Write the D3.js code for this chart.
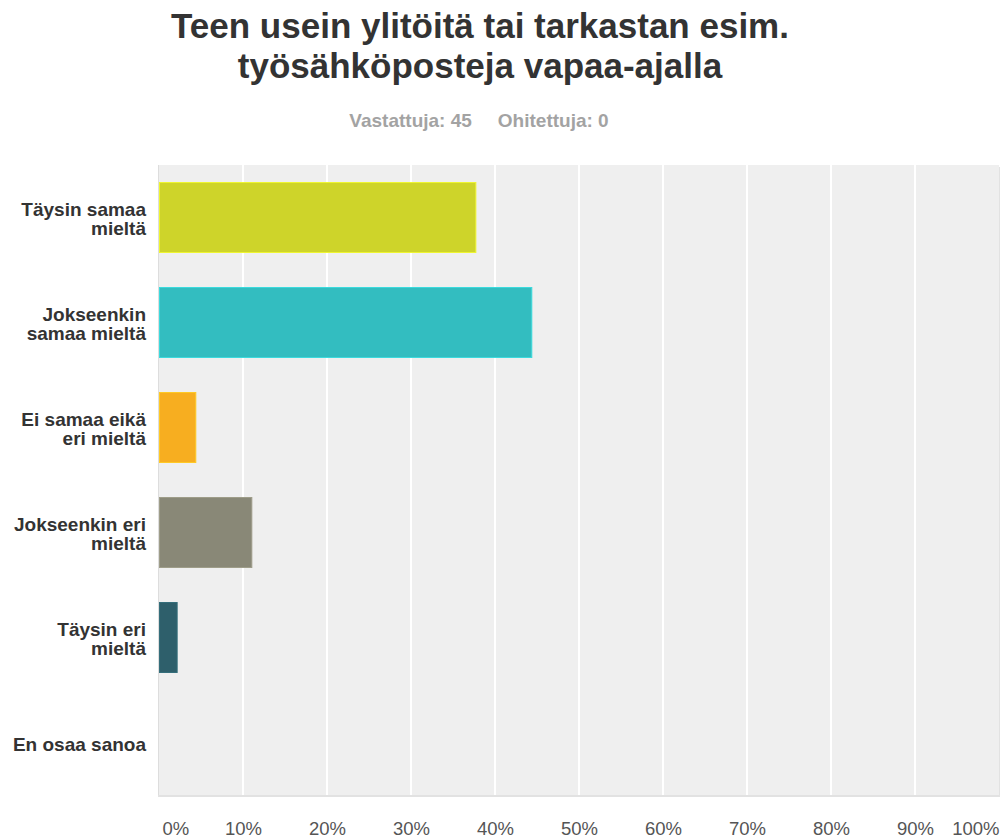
<!DOCTYPE html>
<html>
<head>
<meta charset="utf-8">
<script src="https://cdn.jsdelivr.net/npm/d3@7"></script>
<style>
  html, body { margin: 0; padding: 0; background: #fff; }
  svg { display: block; }
</style>
</head>
<body>
<svg id="chart" width="1002" height="838"></svg>
<script>
// Answer options, top to bottom
const categories = [
  ["Täysin samaa", "mieltä"],
  ["Jokseenkin", "samaa mieltä"],
  ["Ei samaa eikä", "eri mieltä"],
  ["Jokseenkin eri", "mieltä"],
  ["Täysin eri", "mieltä"],
  ["En osaa sanoa"]
];
// Share of respondents (%), 45 answers
const values = [37.78, 44.44, 4.44, 11.11, 2.22, 0];
const barColors = ["#ced42a", "#33bdc0", "#f7ae20", "#898877", "#2e5f6b", "#999999"];
const tickValues = [0, 10, 20, 30, 40, 50, 60, 70, 80, 90, 100];
const titleLines = ["Teen usein ylitöitä tai tarkastan esim.", "työsähköposteja vapaa-ajalla"];
const subtitle = ["Vastattuja: 45", "Ohitettuja: 0"];

const svg = d3.select("#chart");
const plot = { left: 159, right: 999, top: 165, bottom: 795 };
const font = "'Liberation Sans', Arial, sans-serif";

// Title
svg.append("g").selectAll("text").data(titleLines).join("text")
  .attr("x", 480).attr("y", (d, i) => 38 + i * 40)
  .attr("text-anchor", "middle")
  .attr("font-family", font).attr("font-weight", "bold").attr("font-size", 35)
  .attr("fill", "#333").text(d => d);

// Respondent counts
const sub = svg.append("text").attr("x", 479).attr("y", 127)
  .attr("text-anchor", "middle")
  .attr("font-family", font).attr("font-weight", "bold").attr("font-size", 19)
  .attr("fill", "#a3a3a3");
sub.append("tspan").text(subtitle[0]);
sub.append("tspan").attr("dx", 26).text(subtitle[1]);

const x = d3.scaleLinear().domain([0, 100]).range([plot.left, plot.right]);
const y = d3.scaleBand().domain(d3.range(categories.length))
  .range([plot.top, plot.bottom]).paddingInner(1 / 3).paddingOuter(1 / 6);

// Plot background with a soft bottom shadow
svg.append("rect").attr("x", plot.left - 1).attr("y", plot.top + 2)
  .attr("width", plot.right - plot.left + 2).attr("height", plot.bottom - plot.top)
  .attr("fill", "#e2e2e2");
svg.append("rect").attr("x", plot.left - 1).attr("y", plot.top)
  .attr("width", plot.right - plot.left + 1).attr("height", plot.bottom - plot.top)
  .attr("fill", "#dddddd");
svg.append("rect").attr("x", plot.left).attr("y", plot.top)
  .attr("width", plot.right - plot.left).attr("height", plot.bottom - plot.top)
  .attr("fill", "#efefef");

// Vertical gridlines
svg.append("g").selectAll("line").data(tickValues.slice(1, -1)).join("line")
  .attr("x1", d => x(d)).attr("x2", d => x(d))
  .attr("y1", plot.top).attr("y2", plot.bottom)
  .attr("stroke", "#ffffff").attr("stroke-width", 2);

// Bars
svg.append("g").selectAll("rect").data(values).join("rect")
  .attr("x", x(0) + 0.5)
  .attr("y", (d, i) => y(i))
  .attr("width", d => Math.max(0, x(d) - x(0) - 1))
  .attr("height", y.bandwidth())
  .attr("fill", (d, i) => barColors[i])
  .attr("stroke", (d, i) => d3.color(barColors[i]).brighter(0.4))
  .attr("stroke-width", d => d > 0 ? 1 : 0);

// Category labels
const labels = svg.append("g").selectAll("text").data(categories).join("text")
  .attr("text-anchor", "end")
  .attr("font-family", font).attr("font-weight", "bold").attr("font-size", 19)
  .attr("fill", "#333");
labels.each(function (lines, i) {
  const cy = y(i) + y.bandwidth() / 2;
  const lh = 19;
  const y0 = cy - (lines.length - 1) * lh / 2 + 8;
  d3.select(this).selectAll("tspan").data(lines).join("tspan")
    .attr("x", 146).attr("y", (d, j) => y0 + j * lh).text(d => d);
});

// Percentage axis
const xAxis = d3.axisBottom(x).tickValues(tickValues).tickFormat(d => d + "%").tickSize(0).tickPadding(0);
const ax = svg.append("g").attr("transform", `translate(0, 835)`).call(xAxis);
ax.select(".domain").remove();
ax.selectAll("text")
  .attr("font-family", font).attr("font-size", 18.5).attr("fill", "#555")
  .attr("dy", 0)
  .attr("text-anchor", d => d === 0 ? "start" : d === 100 ? "end" : "middle")
  .attr("dx", d => d === 0 ? 3 : 0);
</script>
</body>
</html>
